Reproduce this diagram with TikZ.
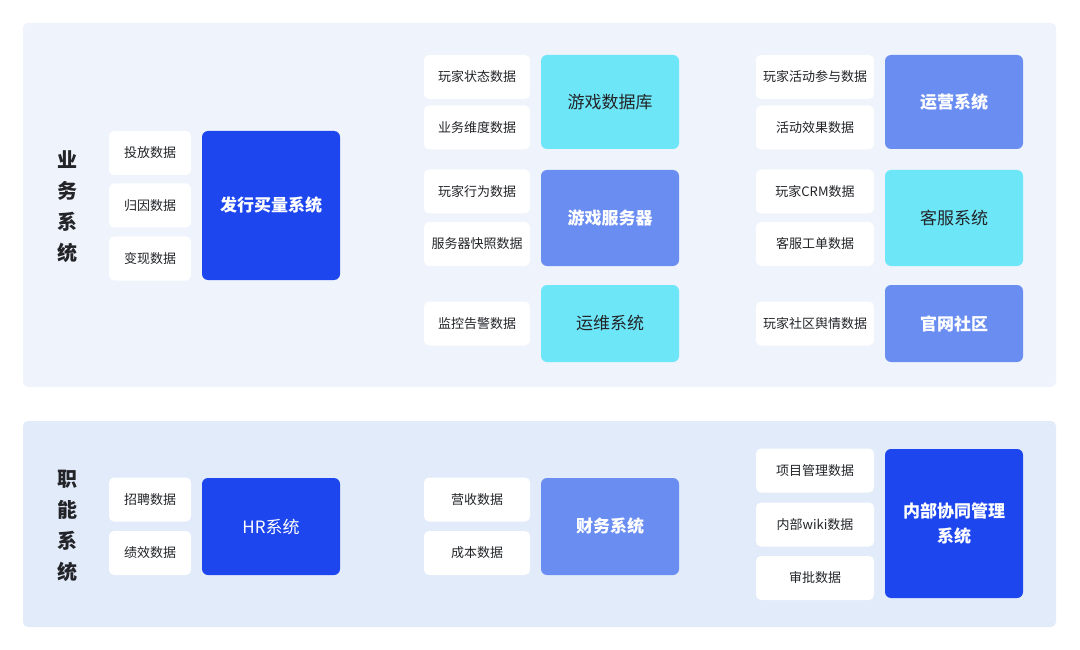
\documentclass[tikz,border=0pt]{standalone}
\usepackage{fontspec}
\setmainfont{Noto Sans CJK SC}
\usepackage{tikz}
\usetikzlibrary{positioning}
\definecolor{deepblue}{HTML}{1D46EE}
\definecolor{midblue}{HTML}{6A8DF2}
\definecolor{cyanbox}{HTML}{6DE7F8}
\definecolor{panelone}{HTML}{EEF3FC}
\definecolor{paneltwo}{HTML}{E2EBFA}
\definecolor{inktext}{HTML}{222428}
\tikzstyle{panel} = [
    rectangle,
    rounded corners = 5pt,
    draw = none
]
\tikzstyle{datum} = [
    rectangle,
    fill = white,
    text = inktext,
    text centered,
    rounded corners = 5pt,
    inner sep = 0pt,
    font = \fontsize{13}{15}\selectfont,
    minimum height = 44pt
]
\tikzstyle{sys} = [
    rectangle,
    text centered,
    align = center,
    rounded corners = 6pt,
    inner sep = 0pt,
    minimum width = 138pt,
    font = \fontsize{17}{25}\selectfont
]
\tikzstyle{sysdeep} = [sys, fill = deepblue, text = white, font = \fontsize{17}{25}\selectfont\bfseries]
\tikzstyle{sysmid} = [sys, fill = midblue, text = white, font = \fontsize{17}{25}\selectfont\bfseries]
\tikzstyle{syscyan} = [sys, fill = cyanbox, text = inktext]
\tikzstyle{heading} = [
    align = center,
    text = inktext,
    font = \fontsize{20}{31}\selectfont\bfseries
]

\begin{document}
\begin{tikzpicture}[x = 1pt, y = -1pt]
    \useasboundingbox[fill = white] (0,0) rectangle (1080,650);
    % panels
    \fill[panel, fill = panelone] (23,23) rectangle (1056,387);
    \fill[panel, fill = paneltwo] (23,421) rectangle (1056,627);
    \node[heading] (biz) at (67,207) {业\\务\\系\\统};
    \node[heading] (func) at (67,526) {职\\能\\系\\统};

    % business systems
    \node[sysdeep, minimum height = 149pt] (buy) at (271,205.5) {发行买量系统};
    \node[datum, minimum width = 82pt] (ad) at (150,153) {投放数据};
    \node[datum, minimum width = 82pt] (attr) at (150,205.5) {归因数据};
    \node[datum, minimum width = 82pt] (cash) at (150,258.5) {变现数据};

    \node[syscyan, minimum height = 94pt] (gamedb) at (610,102) {游戏数据库};
    \node[sysmid, minimum height = 96pt] (server) at (610,218) {游戏服务器};
    \node[syscyan, minimum height = 77pt] (ops) at (610,323.5) {运维系统};
    \node[datum, minimum width = 106pt] (state) at (477,77) {玩家状态数据};
    \node[datum, minimum width = 106pt] (dim) at (477,127.5) {业务维度数据};
    \node[datum, minimum width = 106pt] (behave) at (477,191.5) {玩家行为数据};
    \node[datum, minimum width = 106pt] (snap) at (477,244) {服务器快照数据};
    \node[datum, minimum width = 106pt] (alarm) at (477,323.5) {监控告警数据};

    \node[sysmid, minimum height = 94pt] (oper) at (954,102) {运营系统};
    \node[syscyan, minimum height = 96pt] (service) at (954,218) {客服系统};
    \node[sysmid, minimum height = 77pt] (site) at (954,323.5) {官网社区};
    \node[datum, minimum width = 118pt] (join) at (815,77) {玩家活动参与数据};
    \node[datum, minimum width = 118pt] (effect) at (815,127.5) {活动效果数据};
    \node[datum, minimum width = 118pt] (crm) at (815,191.5) {玩家CRM数据};
    \node[datum, minimum width = 118pt] (ticket) at (815,244) {客服工单数据};
    \node[datum, minimum width = 118pt] (opinion) at (815,323.5) {玩家社区舆情数据};

    % functional systems
    \node[sysdeep, minimum height = 97pt, font = \fontsize{17}{25}\selectfont] (hr) at (271,526.5) {HR系统};
    \node[datum, minimum width = 82pt] (hire) at (150,499.5) {招聘数据};
    \node[datum, minimum width = 82pt] (perf) at (150,553) {绩效数据};

    \node[sysmid, minimum height = 97pt] (fin) at (610,526.5) {财务系统};
    \node[datum, minimum width = 106pt] (income) at (477,499.5) {营收数据};
    \node[datum, minimum width = 106pt] (cost) at (477,553) {成本数据};

    \node[sysdeep, minimum height = 149pt] (collab) at (954,523.5) {内部协同管理\\系统};
    \node[datum, minimum width = 118pt] (project) at (815,470.5) {项目管理数据};
    \node[datum, minimum width = 118pt] (wiki) at (815,524.5) {内部wiki数据};
    \node[datum, minimum width = 118pt] (approve) at (815,578) {审批数据};
\end{tikzpicture}
\end{document}
